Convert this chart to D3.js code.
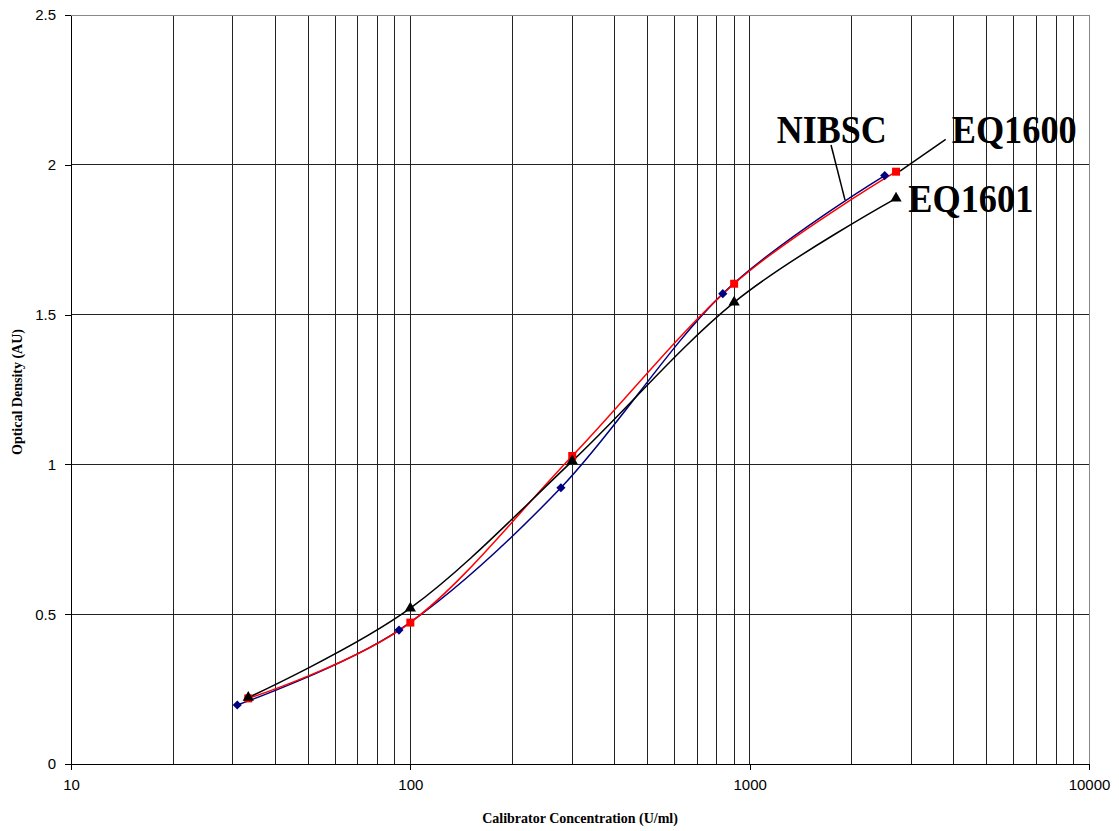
<!DOCTYPE html>
<html>
<head>
<meta charset="utf-8">
<script src="https://cdn.jsdelivr.net/npm/d3@7"></script>
<style>
  html, body { margin: 0; padding: 0; background: #fff; }
  svg { display: block; }
</style>
</head>
<body>
<svg id="chart" width="1119" height="831"></svg>
<script>
// Calibration curves: optical density vs calibrator concentration
const nibscConc = [30.9, 92.6, 277.8, 833.3, 2500];
const nibscOD   = [0.197, 0.447, 0.922, 1.570, 1.964];

const eq1600Conc = [33.3, 100, 300, 900, 2700];
const eq1600OD   = [0.219, 0.472, 1.028, 1.603, 1.977];

const eq1601Conc = [33.3, 100, 300, 900, 2700];
const eq1601OD   = [0.222, 0.520, 1.011, 1.541, 1.888];

const xTickValues = [10, 100, 1000, 10000];
const yTickValues = [0, 0.5, 1, 1.5, 2, 2.5];

// Callout labels (data coordinates) and their leader lines
const calloutNames = ["NIBSC", "EQ1600", "EQ1601"];
const calloutX     = [1201, 3939, 2934];
const calloutY     = [2.074, 2.074, 1.841];
const leaderFrom   = [[1737, 2.066], [3782, 2.085]];
const leaderTo     = [[1910, 1.882], [2773, 1.979]];

const svg = d3.select("#chart");
const margin = { left: 71, top: 15, right: 30, bottom: 67 };
const W = 1119, H = 831;
const innerW = W - margin.left - margin.right;
const innerH = H - margin.top - margin.bottom;

const x = d3.scaleLog().domain([10, 10000]).range([margin.left, margin.left + innerW]);
const y = d3.scaleLinear().domain([0, 2.5]).range([margin.top + innerH, margin.top]);

const g = svg.append("g");

// Vertical gridlines at every 1..9 x 10^n
const gridX = [];
for (let d = 10; d < 10000; d *= 10) for (let k = 1; k <= 9; k++) gridX.push(d * k);
gridX.push(10000);
g.append("g").selectAll("line").data(gridX.filter(v => v > 10)).join("line")
  .attr("x1", d => x(d)).attr("x2", d => x(d))
  .attr("y1", y(0)).attr("y2", y(2.5))
  .attr("stroke", d => d === 10000 ? "#888" : "#222")
  .attr("stroke-width", 1)
  .attr("shape-rendering", "crispEdges");

// Horizontal gridlines
g.append("g").selectAll("line").data(yTickValues.filter(v => v > 0)).join("line")
  .attr("x1", x(10)).attr("x2", x(10000))
  .attr("y1", d => y(d)).attr("y2", d => y(d))
  .attr("stroke", d => d === 2.5 ? "#888" : "#222")
  .attr("stroke-width", 1)
  .attr("shape-rendering", "crispEdges");

// Axes
const xAxis = d3.axisBottom(x).tickValues(xTickValues).tickFormat(d3.format("d"))
  .tickSizeInner(6).tickSizeOuter(0).tickPadding(9);
const yAxis = d3.axisLeft(y).tickValues(yTickValues).tickFormat(d => String(d))
  .tickSizeInner(6).tickSizeOuter(0).tickPadding(9);

const gx = svg.append("g").attr("transform", `translate(0,${y(0)})`).call(xAxis);
const gy = svg.append("g").attr("transform", `translate(${x(10)},0)`).call(yAxis);
[gx, gy].forEach(a => {
  a.selectAll("path").attr("stroke", "#000").attr("stroke-width", 1.4).attr("shape-rendering", "crispEdges");
  a.selectAll("line").attr("stroke", "#000").attr("shape-rendering", "crispEdges");
  a.selectAll("text").attr("font-family", "Liberation Sans, Arial, sans-serif")
    .attr("font-size", 15).attr("fill", "#000");
});

// Axis titles
svg.append("text")
  .attr("x", 580).attr("y", 823)
  .attr("text-anchor", "middle")
  .attr("font-family", "Liberation Serif, Times New Roman, serif")
  .attr("font-weight", "bold").attr("font-size", 14)
  .text("Calibrator Concentration (U/ml)");

svg.append("text")
  .attr("transform", "translate(22,392) rotate(-90)")
  .attr("text-anchor", "middle")
  .attr("font-family", "Liberation Serif, Times New Roman, serif")
  .attr("font-weight", "bold").attr("font-size", 14)
  .text("Optical Density (AU)");

// Series (diamond = square rotated 45 degrees)
const series = [
  { name: "NIBSC",  xs: nibscConc,  ys: nibscOD,  color: "#000080", marker: d3.symbolSquare,   size: 42, rot: 45 },
  { name: "EQ1600", xs: eq1600Conc, ys: eq1600OD, color: "#ff0000", marker: d3.symbolSquare,   size: 64, rot: 0 },
  { name: "EQ1601", xs: eq1601Conc, ys: eq1601OD, color: "#000000", marker: d3.symbolTriangle, size: 55, rot: 0 }
];

const line = d3.line()
  .x(d => x(d[0])).y(d => y(d[1]))
  .curve(d3.curveCatmullRom.alpha(0));

series.forEach(s => {
  const pts = s.xs.map((v, i) => [v, s.ys[i]]);
  svg.append("path")
    .datum(pts)
    .attr("d", line)
    .attr("fill", "none")
    .attr("stroke", s.color)
    .attr("stroke-width", 1.5);
});

series.forEach(s => {
  const pts = s.xs.map((v, i) => [v, s.ys[i]]);
  svg.append("g").selectAll("path").data(pts).join("path")
    .attr("transform", d => `translate(${x(d[0])},${y(d[1])}) rotate(${s.rot})`)
    .attr("d", d3.symbol().type(s.marker).size(s.size))
    .attr("fill", s.color);
});

// Leader lines
svg.append("g").selectAll("line").data(leaderFrom).join("line")
  .attr("x1", d => x(d[0])).attr("y1", d => y(d[1]))
  .attr("x2", (d, i) => x(leaderTo[i][0])).attr("y2", (d, i) => y(leaderTo[i][1]))
  .attr("stroke", "#000").attr("stroke-width", 1.5);

// Callout labels
const labelWidths = [110, 125, 125];
svg.append("g").selectAll("text").data(calloutNames).join("text")
  .attr("x", (d, i) => x(calloutX[i]))
  .attr("y", (d, i) => y(calloutY[i]))
  .attr("font-family", "Liberation Serif, Times New Roman, serif")
  .attr("font-weight", "bold")
  .attr("font-size", 40)
  .attr("textLength", (d, i) => labelWidths[i])
  .attr("lengthAdjust", "spacingAndGlyphs")
  .attr("fill", "#000")
  .text(d => d);
</script>
</body>
</html>
